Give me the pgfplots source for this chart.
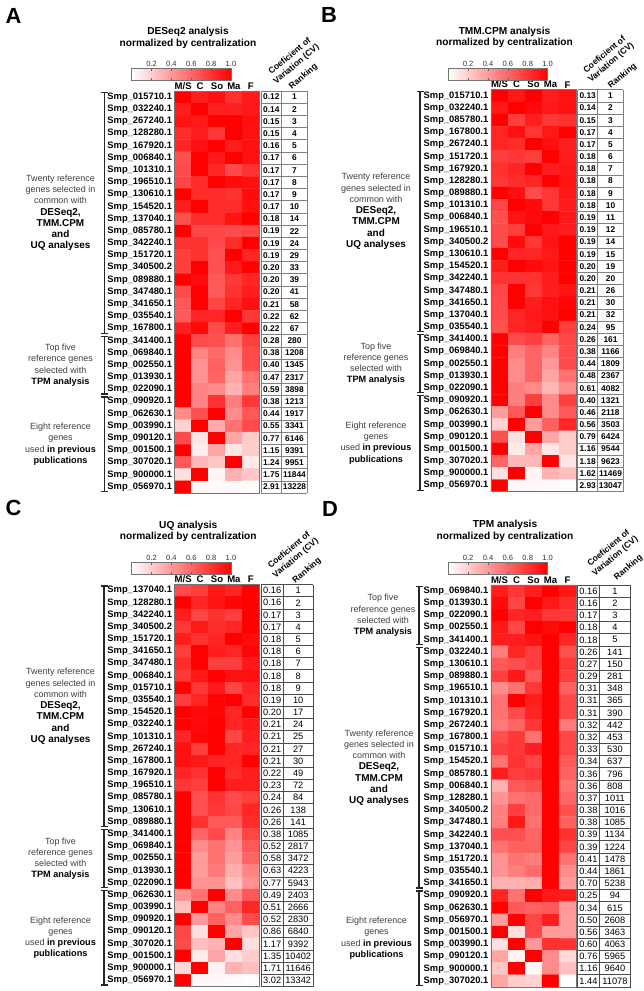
\documentclass[border=0pt]{standalone}
\usepackage{fontspec}
\setmainfont{Liberation Sans}
\usepackage{pgfplots}
\pgfplotsset{compat=1.18}
\pgfplotsset{
  colormap={wr}{rgb255=(255,255,255) rgb255=(255,0,0)},
  hmap/.style={
    anchor=north west, scale only axis, height=402bp,
    xmin=-0.5, xmax=4.5, ymin=-0.5, ymax=32.5, y dir=reverse,
    enlargelimits=false, clip=false, axis on top,
    point meta min=0, point meta max=1,
    xtick={0,...,4}, xticklabels={M/S,C,So,Ma,F}, xticklabel pos=upper,
    xticklabel style={font=\fontsize{9.6}{10}\selectfont\bfseries, inner sep=1.5bp},
    ytick={0,...,32},
    yticklabel style={font=\fontsize{9.4}{10}\selectfont\bfseries, inner xsep=2.5bp, inner ysep=0pt},
    major tick length=0pt, tick style={draw=none},
    axis line style={draw=black!55, line width=0.7bp},
  },
  cb/.style 2 args={colorbar horizontal,
    colorbar style={at={(parent axis.north west)}, anchor=south west,
      xshift=#1, yshift=#2, scale only axis, width=99.3bp, height=12bp,
      xtick={0.2,0.4,0.6,0.8,1}, xticklabels={0.2,0.4,0.6,0.8,1.0},
      xtick pos=both, xticklabel pos=upper, tick align=inside, major tick length=2.5bp,
      xtick style={draw=black!60, line width=0.5bp},
      xticklabel style={font=\fontsize{7.6}{8}\selectfont, text=black!80, inner sep=1.5bp},
      axis line style={draw=black!55, line width=0.6bp}}},
  txt/.style={draw=none, mark=none, nodes near coords, point meta=explicit symbolic},
}
\newcommand\brk[3]{\draw[line width=1.1bp, black!85] (#1bp-3.5bp,-#2bp) -- (#1bp+3.5bp,-#2bp) (#1bp,-#2bp) -- (#1bp,-#3bp) (#1bp-3.5bp,-#3bp) -- (#1bp+3.5bp,-#3bp);}
\newcommand\gA{\fontsize{9}{11.3}\selectfont}
\newcommand\gB{\fontsize{10}{11.3}\selectfont\bfseries\color{black}}
\newcommand\gC{\fontsize{9.2}{11.3}\selectfont\bfseries\color{black}}
\begin{document}
\begin{tikzpicture}
\path[use as bounding box] (0,0) rectangle (644bp,-991bp);
% ---------------- Panel A ----------------
\begin{axis}[hmap, width=84.6bp, at={(174.7bp,-91bp)}, cb={-43bp}{19bp},
  yticklabels={Smp\_015710.1,Smp\_032240.1,Smp\_267240.1,Smp\_128280.1,Smp\_167920.1,Smp\_006840.1,Smp\_101310.1,Smp\_196510.1,Smp\_130610.1,Smp\_154520.1,Smp\_137040.1,Smp\_085780.1,Smp\_342240.1,Smp\_151720.1,Smp\_340500.2,Smp\_089880.1,Smp\_347480.1,Smp\_341650.1,Smp\_035540.1,Smp\_167800.1,Smp\_341400.1,Smp\_069840.1,Smp\_002550.1,Smp\_013930.1,Smp\_022090.1,Smp\_090920.1,Smp\_062630.1,Smp\_003990.1,Smp\_090120.1,Smp\_001500.1,Smp\_307020.1,Smp\_900000.1,Smp\_056970.1}]
\addplot[matrix plot*, mesh/cols=5, point meta=explicit] coordinates {
(0,0)[1.0] (1,0)[0.88] (2,0)[0.93] (3,0)[0.8] (4,0)[0.9]
(0,1)[0.88] (1,1)[1.0] (2,1)[0.87] (3,1)[0.87] (4,1)[0.9]
(0,2)[0.92] (1,2)[0.9] (2,2)[1.0] (3,2)[1.0] (4,2)[0.93]
(0,3)[0.82] (1,3)[0.88] (2,3)[0.78] (3,3)[1.0] (4,3)[0.93]
(0,4)[0.85] (1,4)[0.93] (2,4)[1.0] (3,4)[0.88] (4,4)[0.93]
(0,5)[0.68] (1,5)[1.0] (2,5)[0.9] (3,5)[1.0] (4,5)[0.93]
(0,6)[0.7] (1,6)[1.0] (2,6)[0.85] (3,6)[0.7] (4,6)[0.8]
(0,7)[0.72] (1,7)[0.82] (2,7)[1.0] (3,7)[0.95] (4,7)[0.93]
(0,8)[1.0] (1,8)[0.82] (2,8)[0.82] (3,8)[0.8] (4,8)[0.95]
(0,9)[0.88] (1,9)[1.0] (2,9)[0.83] (3,9)[0.83] (4,9)[0.93]
(0,10)[0.68] (1,10)[0.82] (2,10)[0.82] (3,10)[0.92] (4,10)[1.0]
(0,11)[1.0] (1,11)[0.72] (2,11)[0.72] (3,11)[0.7] (4,11)[0.72]
(0,12)[0.8] (1,12)[0.8] (2,12)[0.7] (3,12)[0.82] (4,12)[1.0]
(0,13)[0.75] (1,13)[0.8] (2,13)[0.68] (3,13)[1.0] (4,13)[0.85]
(0,14)[0.75] (1,14)[1.0] (2,14)[0.68] (3,14)[0.9] (4,14)[1.0]
(0,15)[1.0] (1,15)[0.95] (2,15)[0.65] (3,15)[0.78] (4,15)[0.85]
(0,16)[0.7] (1,16)[1.0] (2,16)[0.65] (3,16)[0.8] (4,16)[0.88]
(0,17)[0.65] (1,17)[1.0] (2,17)[0.72] (3,17)[0.85] (4,17)[0.93]
(0,18)[0.65] (1,18)[0.85] (2,18)[0.85] (3,18)[1.0] (4,18)[0.78]
(0,19)[0.88] (1,19)[0.96] (2,19)[0.7] (3,19)[0.88] (4,19)[1.0]
(0,20)[1.0] (1,20)[0.7] (2,20)[0.68] (3,20)[0.55] (4,20)[0.75]
(0,21)[1.0] (1,21)[0.48] (2,21)[0.58] (3,21)[0.45] (4,21)[0.7]
(0,22)[1.0] (1,22)[0.42] (2,22)[0.62] (3,22)[0.42] (4,22)[0.7]
(0,23)[1.0] (1,23)[0.42] (2,23)[0.6] (3,23)[0.35] (4,23)[0.55]
(0,24)[1.0] (1,24)[0.48] (2,24)[0.45] (3,24)[0.3] (4,24)[0.5]
(0,25)[1.0] (1,25)[0.48] (2,25)[0.8] (3,25)[0.5] (4,25)[0.78]
(0,26)[0.45] (1,26)[0.68] (2,26)[1.0] (3,26)[0.45] (4,26)[0.65]
(0,27)[0.18] (1,27)[1.0] (2,27)[0.33] (3,27)[0.55] (4,27)[0.7]
(0,28)[0.7] (1,28)[0.1] (2,28)[1.0] (3,28)[0.35] (4,28)[0.2]
(0,29)[1.0] (1,29)[0.07] (2,29)[0.35] (3,29)[0.1] (4,29)[0.2]
(0,30)[0.65] (1,30)[0.28] (2,30)[0.22] (3,30)[1.0] (4,30)[0.08]
(0,31)[0.13] (1,31)[1.0] (2,31)[0.04] (3,31)[0.3] (4,31)[0.22]
(0,32)[1.0] (1,32)[0.03] (2,32)[0.02] (3,32)[0.02] (4,32)[0.01]
};
\addplot[txt, every node near coord/.append style={anchor=center, inner sep=0pt, font=\fontsize{8.4}{9}\selectfont\bfseries}] coordinates {
(5.212,0)[0.12] (5.212,1)[0.14] (5.212,2)[0.15] (5.212,3)[0.15] (5.212,4)[0.16] (5.212,5)[0.17] (5.212,6)[0.17] (5.212,7)[0.17] (5.212,8)[0.17] (5.212,9)[0.17] (5.212,10)[0.18] (5.212,11)[0.19] (5.212,12)[0.19] (5.212,13)[0.19] (5.212,14)[0.20] (5.212,15)[0.20] (5.212,16)[0.20] (5.212,17)[0.21] (5.212,18)[0.22] (5.212,19)[0.22] (5.212,20)[0.28] (5.212,21)[0.38] (5.212,22)[0.40] (5.212,23)[0.47] (5.212,24)[0.59] (5.212,25)[0.38] (5.212,26)[0.44] (5.212,27)[0.55] (5.212,28)[0.77] (5.212,29)[1.15] (5.212,30)[1.24] (5.212,31)[1.75] (5.212,32)[2.91]
};
\addplot[txt, every node near coord/.append style={anchor=center, inner sep=0pt, font=\fontsize{8.4}{9}\selectfont\bfseries}] coordinates {
(6.58,0)[1] (6.58,1)[2] (6.58,2)[3] (6.58,3)[4] (6.58,4)[5] (6.58,5)[6] (6.58,6)[7] (6.58,7)[8] (6.58,8)[9] (6.58,9)[10] (6.58,10)[14] (6.58,11)[22] (6.58,12)[24] (6.58,13)[29] (6.58,14)[33] (6.58,15)[39] (6.58,16)[41] (6.58,17)[58] (6.58,18)[62] (6.58,19)[67] (6.58,20)[280] (6.58,21)[1208] (6.58,22)[1345] (6.58,23)[2317] (6.58,24)[3898] (6.58,25)[1213] (6.58,26)[1917] (6.58,27)[3341] (6.58,28)[6146] (6.58,29)[9391] (6.58,30)[9951] (6.58,31)[11844] (6.58,32)[13228]
};
\end{axis}
% ---------------- Panel B ----------------
\begin{axis}[hmap, width=85bp, at={(491bp,-89.7bp)}, cb={-42.7bp}{17.5bp},
  yticklabels={Smp\_015710.1,Smp\_032240.1,Smp\_085780.1,Smp\_167800.1,Smp\_267240.1,Smp\_151720.1,Smp\_167920.1,Smp\_128280.1,Smp\_089880.1,Smp\_101310.1,Smp\_006840.1,Smp\_196510.1,Smp\_340500.2,Smp\_130610.1,Smp\_154520.1,Smp\_342240.1,Smp\_347480.1,Smp\_341650.1,Smp\_137040.1,Smp\_035540.1,Smp\_341400.1,Smp\_069840.1,Smp\_002550.1,Smp\_013930.1,Smp\_022090.1,Smp\_090920.1,Smp\_062630.1,Smp\_003990.1,Smp\_090120.1,Smp\_001500.1,Smp\_307020.1,Smp\_900000.1,Smp\_056970.1}]
\addplot[matrix plot*, mesh/cols=5, point meta=explicit] coordinates {
(0,0)[1.0] (1,0)[0.9] (2,0)[1.0] (3,0)[0.88] (4,0)[0.92]
(0,1)[0.9] (1,1)[1.0] (2,1)[0.95] (3,1)[0.9] (4,1)[0.93]
(0,2)[1.0] (1,2)[0.75] (2,2)[0.88] (3,2)[0.78] (4,2)[0.8]
(0,3)[0.85] (1,3)[0.93] (2,3)[0.78] (3,3)[0.9] (4,3)[1.0]
(0,4)[0.85] (1,4)[0.82] (2,4)[1.0] (3,4)[0.93] (4,4)[0.88]
(0,5)[0.75] (1,5)[0.78] (2,5)[0.75] (3,5)[1.0] (4,5)[0.88]
(0,6)[0.8] (1,6)[0.85] (2,6)[1.0] (3,6)[0.88] (4,6)[0.9]
(0,7)[0.78] (1,7)[0.82] (2,7)[0.85] (3,7)[1.0] (4,7)[0.92]
(0,8)[1.0] (1,8)[0.93] (2,8)[0.7] (3,8)[0.78] (4,8)[0.9]
(0,9)[0.72] (1,9)[1.0] (2,9)[0.95] (3,9)[0.78] (4,9)[0.88]
(0,10)[0.68] (1,10)[0.92] (2,10)[0.95] (3,10)[1.0] (4,10)[0.9]
(0,11)[0.7] (1,11)[0.75] (2,11)[1.0] (3,11)[0.9] (4,11)[0.88]
(0,12)[0.7] (1,12)[0.95] (2,12)[0.78] (3,12)[0.92] (4,12)[1.0]
(0,13)[1.0] (1,13)[0.85] (2,13)[0.85] (3,13)[0.9] (4,13)[1.0]
(0,14)[0.88] (1,14)[1.0] (2,14)[0.95] (3,14)[0.92] (4,14)[1.0]
(0,15)[0.8] (1,15)[0.8] (2,15)[0.8] (3,15)[0.88] (4,15)[1.0]
(0,16)[0.72] (1,16)[1.0] (2,16)[0.78] (3,16)[0.88] (4,16)[0.92]
(0,17)[0.7] (1,17)[1.0] (2,17)[0.88] (3,17)[0.93] (4,17)[0.97]
(0,18)[0.7] (1,18)[0.85] (2,18)[0.9] (3,18)[0.93] (4,18)[1.0]
(0,19)[0.68] (1,19)[0.85] (2,19)[0.88] (3,19)[1.0] (4,19)[0.75]
(0,20)[1.0] (1,20)[0.7] (2,20)[0.75] (3,20)[0.6] (4,20)[0.72]
(0,21)[1.0] (1,21)[0.5] (2,21)[0.6] (3,21)[0.48] (4,21)[0.7]
(0,22)[1.0] (1,22)[0.45] (2,22)[0.6] (3,22)[0.4] (4,22)[0.7]
(0,23)[1.0] (1,23)[0.45] (2,23)[0.6] (3,23)[0.35] (4,23)[0.55]
(0,24)[1.0] (1,24)[0.5] (2,24)[0.45] (3,24)[0.28] (4,24)[0.45]
(0,25)[1.0] (1,25)[0.5] (2,25)[0.75] (3,25)[0.45] (4,25)[0.75]
(0,26)[0.38] (1,26)[0.65] (2,26)[1.0] (3,26)[0.45] (4,26)[0.65]
(0,27)[0.18] (1,27)[1.0] (2,27)[0.38] (3,27)[0.62] (4,27)[0.85]
(0,28)[0.68] (1,28)[0.12] (2,28)[1.0] (3,28)[0.35] (4,28)[0.2]
(0,29)[1.0] (1,29)[0.08] (2,29)[0.35] (3,29)[0.1] (4,29)[0.2]
(0,30)[0.6] (1,30)[0.28] (2,30)[0.28] (3,30)[1.0] (4,30)[0.1]
(0,31)[0.12] (1,31)[1.0] (2,31)[0.04] (3,31)[0.3] (4,31)[0.25]
(0,32)[1.0] (1,32)[0.03] (2,32)[0.03] (3,32)[0.02] (4,32)[0.01]
};
\addplot[txt, every node near coord/.append style={anchor=center, inner sep=0pt, font=\fontsize{8.4}{9}\selectfont\bfseries}] coordinates {
(5.19,0)[0.13] (5.19,1)[0.14] (5.19,2)[0.15] (5.19,3)[0.17] (5.19,4)[0.17] (5.19,5)[0.18] (5.19,6)[0.18] (5.19,7)[0.18] (5.19,8)[0.18] (5.19,9)[0.18] (5.19,10)[0.19] (5.19,11)[0.19] (5.19,12)[0.19] (5.19,13)[0.19] (5.19,14)[0.20] (5.19,15)[0.20] (5.19,16)[0.21] (5.19,17)[0.21] (5.19,18)[0.21] (5.19,19)[0.24] (5.19,20)[0.26] (5.19,21)[0.38] (5.19,22)[0.44] (5.19,23)[0.48] (5.19,24)[0.61] (5.19,25)[0.40] (5.19,26)[0.46] (5.19,27)[0.56] (5.19,28)[0.79] (5.19,29)[1.16] (5.19,30)[1.18] (5.19,31)[1.62] (5.19,32)[2.93]
};
\addplot[txt, every node near coord/.append style={anchor=center, inner sep=0pt, font=\fontsize{8.4}{9}\selectfont\bfseries}] coordinates {
(6.53,0)[1] (6.53,1)[2] (6.53,2)[3] (6.53,3)[4] (6.53,4)[5] (6.53,5)[6] (6.53,6)[7] (6.53,7)[8] (6.53,8)[9] (6.53,9)[10] (6.53,10)[11] (6.53,11)[12] (6.53,12)[14] (6.53,13)[15] (6.53,14)[19] (6.53,15)[20] (6.53,16)[26] (6.53,17)[30] (6.53,18)[32] (6.53,19)[95] (6.53,20)[161] (6.53,21)[1166] (6.53,22)[1809] (6.53,23)[2367] (6.53,24)[4082] (6.53,25)[1321] (6.53,26)[2118] (6.53,27)[3503] (6.53,28)[6424] (6.53,29)[9544] (6.53,30)[9623] (6.53,31)[11469] (6.53,32)[13047]
};
\end{axis}
% ---------------- Panel C ----------------
\begin{axis}[hmap, width=84.6bp, at={(174.7bp,-584.5bp)}, cb={-43bp}{18.5bp},
  yticklabels={Smp\_137040.1,Smp\_128280.1,Smp\_342240.1,Smp\_340500.2,Smp\_151720.1,Smp\_341650.1,Smp\_347480.1,Smp\_006840.1,Smp\_015710.1,Smp\_035540.1,Smp\_154520.1,Smp\_032240.1,Smp\_101310.1,Smp\_267240.1,Smp\_167800.1,Smp\_167920.1,Smp\_196510.1,Smp\_085780.1,Smp\_130610.1,Smp\_089880.1,Smp\_341400.1,Smp\_069840.1,Smp\_002550.1,Smp\_013930.1,Smp\_022090.1,Smp\_062630.1,Smp\_003990.1,Smp\_090920.1,Smp\_090120.1,Smp\_307020.1,Smp\_001500.1,Smp\_900000.1,Smp\_056970.1}]
\addplot[matrix plot*, mesh/cols=5, point meta=explicit] coordinates {
(0,0)[0.7] (1,0)[0.75] (2,0)[0.9] (3,0)[0.85] (4,0)[1.0]
(0,1)[1.0] (1,1)[0.85] (2,1)[0.92] (3,1)[0.97] (4,1)[1.0]
(0,2)[0.88] (1,2)[0.72] (2,2)[0.8] (3,2)[0.75] (4,2)[1.0]
(0,3)[0.78] (1,3)[0.9] (2,3)[0.82] (3,3)[0.85] (4,3)[1.0]
(0,4)[0.88] (1,4)[0.8] (2,4)[0.85] (3,4)[1.0] (4,4)[0.95]
(0,5)[0.75] (1,5)[1.0] (2,5)[0.88] (3,5)[0.85] (4,5)[0.97]
(0,6)[0.82] (1,6)[1.0] (2,6)[0.75] (3,6)[0.75] (4,6)[0.9]
(0,7)[0.78] (1,7)[0.9] (2,7)[1.0] (3,7)[0.93] (4,7)[0.93]
(0,8)[1.0] (1,8)[0.78] (2,8)[0.9] (3,8)[0.72] (4,8)[0.85]
(0,9)[0.75] (1,9)[0.85] (2,9)[0.97] (3,9)[1.0] (4,9)[0.82]
(0,10)[1.0] (1,10)[0.95] (2,10)[0.97] (3,10)[0.85] (4,10)[1.0]
(0,11)[1.0] (1,11)[0.95] (2,11)[1.0] (3,11)[0.85] (4,11)[0.9]
(0,12)[0.85] (1,12)[0.97] (2,12)[1.0] (3,12)[0.72] (4,12)[0.88]
(0,13)[0.93] (1,13)[0.75] (2,13)[1.0] (3,13)[0.85] (4,13)[0.85]
(0,14)[0.93] (1,14)[0.9] (2,14)[0.85] (3,14)[0.85] (4,14)[1.0]
(0,15)[0.85] (1,15)[0.8] (2,15)[1.0] (3,15)[0.82] (4,15)[0.88]
(0,16)[0.78] (1,16)[0.75] (2,16)[1.0] (3,16)[0.88] (4,16)[0.88]
(0,17)[1.0] (1,17)[0.68] (2,17)[0.8] (3,17)[0.7] (4,17)[0.75]
(0,18)[1.0] (1,18)[0.68] (2,18)[0.78] (3,18)[0.72] (4,18)[0.85]
(0,19)[1.0] (1,19)[0.8] (2,19)[0.65] (3,19)[0.65] (4,19)[0.82]
(0,20)[1.0] (1,20)[0.6] (2,20)[0.7] (3,20)[0.48] (4,20)[0.72]
(0,21)[1.0] (1,21)[0.45] (2,21)[0.55] (3,21)[0.42] (4,21)[0.65]
(0,22)[1.0] (1,22)[0.38] (2,22)[0.55] (3,22)[0.38] (4,22)[0.6]
(0,23)[1.0] (1,23)[0.38] (2,23)[0.52] (3,23)[0.32] (4,23)[0.48]
(0,24)[1.0] (1,24)[0.42] (2,24)[0.42] (3,24)[0.25] (4,24)[0.42]
(0,25)[0.42] (1,25)[0.55] (2,25)[1.0] (3,25)[0.45] (4,25)[0.65]
(0,26)[0.25] (1,26)[1.0] (2,26)[0.48] (3,26)[0.62] (4,26)[0.85]
(0,27)[1.0] (1,27)[0.4] (2,27)[0.62] (3,27)[0.45] (4,27)[0.7]
(0,28)[0.72] (1,28)[0.12] (2,28)[1.0] (3,28)[0.35] (4,28)[0.22]
(0,29)[0.7] (1,29)[0.25] (2,29)[0.3] (3,29)[1.0] (4,29)[0.12]
(0,30)[1.0] (1,30)[0.08] (2,30)[0.35] (3,30)[0.12] (4,30)[0.2]
(0,31)[0.15] (1,31)[1.0] (2,31)[0.05] (3,31)[0.3] (4,31)[0.25]
(0,32)[1.0] (1,32)[0.03] (2,32)[0.03] (3,32)[0.02] (4,32)[0.01]
};
\addplot[txt, every node near coord/.append style={anchor=west, inner sep=0pt, font=\fontsize{9.3}{10}\selectfont}] coordinates {
(4.72,0)[0.16] (4.72,1)[0.16] (4.72,2)[0.17] (4.72,3)[0.17] (4.72,4)[0.18] (4.72,5)[0.18] (4.72,6)[0.18] (4.72,7)[0.18] (4.72,8)[0.18] (4.72,9)[0.19] (4.72,10)[0.20] (4.72,11)[0.21] (4.72,12)[0.21] (4.72,13)[0.21] (4.72,14)[0.21] (4.72,15)[0.22] (4.72,16)[0.23] (4.72,17)[0.24] (4.72,18)[0.26] (4.72,19)[0.26] (4.72,20)[0.38] (4.72,21)[0.52] (4.72,22)[0.58] (4.72,23)[0.63] (4.72,24)[0.77] (4.72,25)[0.49] (4.72,26)[0.51] (4.72,27)[0.52] (4.72,28)[0.86] (4.72,29)[1.17] (4.72,30)[1.35] (4.72,31)[1.71] (4.72,32)[3.02]
};
\addplot[txt, every node near coord/.append style={anchor=center, inner sep=0pt, font=\fontsize{9.3}{10}\selectfont}] coordinates {
(6.8,0)[1] (6.8,1)[2] (6.8,2)[3] (6.8,3)[4] (6.8,4)[5] (6.8,5)[6] (6.8,6)[7] (6.8,7)[8] (6.8,8)[9] (6.8,9)[10] (6.8,10)[17] (6.8,11)[24] (6.8,12)[25] (6.8,13)[27] (6.8,14)[30] (6.8,15)[49] (6.8,16)[72] (6.8,17)[84] (6.8,18)[138] (6.8,19)[141] (6.8,20)[1085] (6.8,21)[2817] (6.8,22)[3472] (6.8,23)[4223] (6.8,24)[5943] (6.8,25)[2403] (6.8,26)[2666] (6.8,27)[2830] (6.8,28)[6840] (6.8,29)[9392] (6.8,30)[10402] (6.8,31)[11646] (6.8,32)[13342]
};
\end{axis}
% ---------------- Panel D ----------------
\begin{axis}[hmap, width=85bp, at={(491bp,-585bp)}, cb={-42.7bp}{19.5bp},
  yticklabels={Smp\_069840.1,Smp\_013930.1,Smp\_022090.1,Smp\_002550.1,Smp\_341400.1,Smp\_032240.1,Smp\_130610.1,Smp\_089880.1,Smp\_196510.1,Smp\_101310.1,Smp\_167920.1,Smp\_267240.1,Smp\_167800.1,Smp\_015710.1,Smp\_154520.1,Smp\_085780.1,Smp\_006840.1,Smp\_128280.1,Smp\_340500.2,Smp\_347480.1,Smp\_342240.1,Smp\_137040.1,Smp\_151720.1,Smp\_035540.1,Smp\_341650.1,Smp\_090920.1,Smp\_062630.1,Smp\_056970.1,Smp\_001500.1,Smp\_003990.1,Smp\_090120.1,Smp\_900000.1,Smp\_307020.1}]
\addplot[matrix plot*, mesh/cols=5, point meta=explicit] coordinates {
(0,0)[0.88] (1,0)[0.78] (2,0)[0.88] (3,0)[1.0] (4,0)[0.9]
(0,1)[0.95] (1,1)[0.72] (2,1)[1.0] (3,1)[0.9] (4,1)[0.82]
(0,2)[1.0] (1,2)[0.85] (2,2)[0.88] (3,2)[0.78] (4,2)[0.78]
(0,3)[0.9] (1,3)[0.72] (2,3)[1.0] (3,3)[0.95] (4,3)[1.0]
(0,4)[0.88] (1,4)[0.88] (2,4)[0.92] (3,4)[1.0] (4,4)[0.85]
(0,5)[0.5] (1,5)[0.85] (2,5)[0.75] (3,5)[1.0] (4,5)[0.68]
(0,6)[0.65] (1,6)[0.68] (2,6)[0.75] (3,6)[1.0] (4,6)[0.78]
(0,7)[0.75] (1,7)[0.9] (2,7)[0.65] (3,7)[1.0] (4,7)[0.75]
(0,8)[0.45] (1,8)[0.55] (2,8)[0.78] (3,8)[1.0] (4,8)[0.62]
(0,9)[0.55] (1,9)[1.0] (2,9)[0.88] (3,9)[1.0] (4,9)[0.72]
(0,10)[0.55] (1,10)[0.7] (2,10)[0.85] (3,10)[1.0] (4,10)[0.72]
(0,11)[0.52] (1,11)[0.6] (2,11)[0.78] (3,11)[1.0] (4,11)[0.52]
(0,12)[0.68] (1,12)[0.78] (2,12)[0.55] (3,12)[1.0] (4,12)[0.72]
(0,13)[0.75] (1,13)[0.78] (2,13)[0.88] (3,13)[1.0] (4,13)[0.72]
(0,14)[0.55] (1,14)[0.8] (2,14)[0.72] (3,14)[1.0] (4,14)[0.65]
(0,15)[0.88] (1,15)[0.75] (2,15)[0.78] (3,15)[1.0] (4,15)[0.62]
(0,16)[0.3] (1,16)[0.65] (2,16)[0.68] (3,16)[1.0] (4,16)[0.55]
(0,17)[0.42] (1,17)[0.55] (2,17)[0.58] (3,17)[1.0] (4,17)[0.6]
(0,18)[0.5] (1,18)[0.75] (2,18)[0.58] (3,18)[1.0] (4,18)[0.68]
(0,19)[0.5] (1,19)[0.9] (2,19)[0.55] (3,19)[1.0] (4,19)[0.62]
(0,20)[0.68] (1,20)[0.68] (2,20)[0.6] (3,20)[1.0] (4,20)[0.8]
(0,21)[0.55] (1,21)[0.62] (2,21)[0.62] (3,21)[1.0] (4,21)[0.72]
(0,22)[0.42] (1,22)[0.55] (2,22)[0.5] (3,22)[1.0] (4,22)[0.55]
(0,23)[0.42] (1,23)[0.5] (2,23)[0.58] (3,23)[1.0] (4,23)[0.45]
(0,24)[0.3] (1,24)[0.3] (2,24)[0.32] (3,24)[1.0] (4,24)[0.38]
(0,25)[0.85] (1,25)[0.55] (2,25)[1.0] (3,25)[0.9] (4,25)[0.88]
(0,26)[1.0] (1,26)[0.65] (2,26)[0.62] (3,26)[0.65] (4,26)[0.4]
(0,27)[0.38] (1,27)[1.0] (2,27)[0.72] (3,27)[0.88] (4,27)[0.38]
(0,28)[1.0] (1,28)[0.12] (2,28)[0.72] (3,28)[0.38] (4,28)[0.38]
(0,29)[0.12] (1,29)[1.0] (2,29)[0.4] (3,29)[0.8] (4,29)[0.8]
(0,30)[0.35] (1,30)[0.05] (2,30)[1.0] (3,30)[0.45] (4,30)[0.15]
(0,31)[0.22] (1,31)[1.0] (2,31)[0.03] (3,31)[0.45] (4,31)[0.25]
(0,32)[0.35] (1,32)[0.2] (2,32)[0.18] (3,32)[1.0] (4,32)[0.0]
};
\addplot[txt, every node near coord/.append style={anchor=west, inner sep=0pt, font=\fontsize{9.3}{10}\selectfont}] coordinates {
(4.69,0)[0.16] (4.69,1)[0.16] (4.69,2)[0.17] (4.69,3)[0.18] (4.69,4)[0.18] (4.69,5)[0.26] (4.69,6)[0.27] (4.69,7)[0.29] (4.69,8)[0.31] (4.69,9)[0.31] (4.69,10)[0.31] (4.69,11)[0.32] (4.69,12)[0.32] (4.69,13)[0.33] (4.69,14)[0.34] (4.69,15)[0.36] (4.69,16)[0.36] (4.69,17)[0.37] (4.69,18)[0.38] (4.69,19)[0.38] (4.69,20)[0.39] (4.69,21)[0.39] (4.69,22)[0.41] (4.69,23)[0.44] (4.69,24)[0.70] (4.69,25)[0.25] (4.69,26)[0.34] (4.69,27)[0.50] (4.69,28)[0.56] (4.69,29)[0.60] (4.69,30)[0.76] (4.69,31)[1.16] (4.69,32)[1.44]
};
\addplot[txt, every node near coord/.append style={anchor=center, inner sep=0pt, font=\fontsize{9.3}{10}\selectfont}] coordinates {
(6.79,0)[1] (6.79,1)[2] (6.79,2)[3] (6.79,3)[4] (6.79,4)[5] (6.79,5)[141] (6.79,6)[150] (6.79,7)[281] (6.79,8)[348] (6.79,9)[365] (6.79,10)[390] (6.79,11)[442] (6.79,12)[453] (6.79,13)[530] (6.79,14)[637] (6.79,15)[796] (6.79,16)[808] (6.79,17)[1011] (6.79,18)[1016] (6.79,19)[1085] (6.79,20)[1134] (6.79,21)[1224] (6.79,22)[1478] (6.79,23)[1861] (6.79,24)[5238] (6.79,25)[94] (6.79,26)[615] (6.79,27)[2608] (6.79,28)[3463] (6.79,29)[4063] (6.79,30)[5965] (6.79,31)[9640] (6.79,32)[11078]
};
\end{axis}
% ---------------- table grids ----------------
\foreach \i in {0,...,33} {
  \draw[black!50, line width=0.6bp] (261bp,{-91bp-\i*12.1818bp}) -- (307.3bp,{-91bp-\i*12.1818bp});
  \draw[black!50, line width=0.6bp] (577.7bp,{-89.7bp-\i*12.1818bp}) -- (623.3bp,{-89.7bp-\i*12.1818bp});
  \draw[black!70, line width=0.7bp] (261bp,{-584.5bp-\i*12.1818bp}) -- (313.3bp,{-584.5bp-\i*12.1818bp});
  \draw[black!70, line width=0.7bp] (577.3bp,{-585bp-\i*12.1818bp}) -- (630.7bp,{-585bp-\i*12.1818bp});
}
\draw[black!50, line width=0.6bp] (261bp,-91bp) -- (261bp,-493bp) (281.7bp,-91bp) -- (281.7bp,-493bp) (307.3bp,-91bp) -- (307.3bp,-493bp);
\draw[black!50, line width=0.6bp] (577.7bp,-89.7bp) -- (577.7bp,-491.7bp) (597.7bp,-89.7bp) -- (597.7bp,-491.7bp) (623.3bp,-89.7bp) -- (623.3bp,-491.7bp);
\draw[black!70, line width=0.7bp] (261bp,-584.5bp) -- (261bp,-986.5bp) (283.3bp,-584.5bp) -- (283.3bp,-986.5bp) (313.3bp,-584.5bp) -- (313.3bp,-986.5bp);
\draw[black!70, line width=0.7bp] (577.3bp,-585bp) -- (577.3bp,-987bp) (599.3bp,-585bp) -- (599.3bp,-987bp) (630.7bp,-585bp) -- (630.7bp,-987bp);
% ---------------- panel letters & titles ----------------
\tikzset{lett/.style={font=\fontsize{22}{24}\selectfont\bfseries, inner sep=0pt},
  ttl/.style={font=\fontsize{10.2}{11.4}\selectfont\bfseries, align=center, inner sep=0pt},
  rot/.style={font=\fontsize{8.6}{10.3}\selectfont\bfseries, align=center, inner sep=0pt, rotate=40},
  grp/.style={font=\gA, text=black!75, align=center, inner sep=0pt}}
\node[lett] at (13.5bp,-16bp) {A};
\node[lett] at (329bp,-15bp) {B};
\node[lett] at (13.5bp,-508bp) {C};
\node[lett] at (330bp,-508.5bp) {D};
\node[ttl] at (188bp,-37.7bp) {DESeq2 analysis\\normalized by centralization};
\node[ttl] at (504.5bp,-37.5bp) {TMM.CPM analysis\\normalized by centralization};
\node[ttl] at (188.3bp,-531.2bp) {UQ analysis\\normalized by centralization};
\node[ttl] at (505bp,-530.8bp) {TPM analysis\\normalized by centralization};
\node[rot] at (293.2bp,-60.5bp) {Coeficient of\\Variation (CV)};
\node[rot] at (303.5bp,-76.5bp) {Ranking};
\node[rot] at (608bp,-58.8bp) {Coeficient of\\Variation (CV)};
\node[rot] at (622.5bp,-76bp) {Ranking};
\node[rot] at (292.5bp,-554.5bp) {Coeficient of\\Variation (CV)};
\node[rot] at (307bp,-570.5bp) {Ranking};
\node[rot] at (612bp,-552.5bp) {Coeficient of\\Variation (CV)};
\node[rot] at (628.5bp,-567.5bp) {Ranking};
% ---------------- brackets ----------------
\brk{104.3}{92.5}{333.1}\brk{104.3}{336.1}{394}\brk{104.3}{397}{491.5}
\brk{420}{91.2}{331.8}\brk{420}{334.8}{392.7}\brk{420}{395.7}{490.2}
\brk{104}{586}{826.6}\brk{104}{829.6}{887.5}\brk{104}{890.5}{985}
\brk{419}{586.5}{644.4}\brk{419}{647.4}{888}\brk{419}{891}{985.5}
% ---------------- group labels ----------------
\newcommand\twenty{Twenty reference\\genes selected in\\common with\\{\gB DESeq2,}\\{\gB TMM.CPM}\\{\gB and}\\{\gB UQ analyses}}
\newcommand\topfive{Top five\\reference genes\\selected with\\{\gC TPM analysis}}
\newcommand\eight{Eight reference\\genes\\used {\gC in previous}\\{\gC publications}}
\node[grp] at (60.5bp,-212.8bp) {\twenty};
\node[grp] at (60.5bp,-365.1bp) {\topfive};
\node[grp] at (60.5bp,-444.3bp) {\eight};
\node[grp] at (376bp,-211.5bp) {\twenty};
\node[grp] at (376bp,-363.8bp) {\topfive};
\node[grp] at (376bp,-443bp) {\eight};
\node[grp] at (60.5bp,-706.3bp) {\twenty};
\node[grp] at (60.5bp,-858.6bp) {\topfive};
\node[grp] at (60.5bp,-937.8bp) {\eight};
\node[grp] at (383bp,-615.5bp) {\topfive};
\node[grp] at (379bp,-767.7bp) {\twenty};
\node[grp] at (376.5bp,-938.3bp) {\eight};
\end{tikzpicture}
\end{document}
